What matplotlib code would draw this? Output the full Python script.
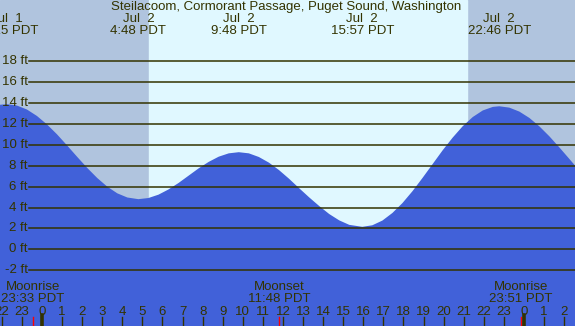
import matplotlib
matplotlib.use("Agg")
import matplotlib.pyplot as plt

# tide curve (hours from Jul 2 00:00 PDT, feet)
hours = [-2.1, -1.75, -1.25, -0.75, -0.25, 0.25, 0.75, 1.25, 1.75, 2.25,
         2.75, 3.25, 3.75, 4.25, 4.8, 5.3, 5.8, 6.3, 6.8, 7.3,
         7.8, 8.3, 8.8, 9.3, 9.8, 10.3, 10.8, 11.3, 11.8, 12.3,
         12.8, 13.3, 13.8, 14.3, 14.8, 15.3, 15.95, 16.45, 16.95, 17.45,
         17.95, 18.45, 18.95, 19.45, 19.95, 20.45, 20.95, 21.45, 21.95, 22.45,
         22.77, 23.27, 23.77, 24.27, 24.77, 25.27, 25.77, 26.27, 26.6]
heights = [13.84, 13.9, 13.77, 13.39, 12.77, 11.96, 11.01, 9.95, 8.86, 7.8,
           6.83, 6.0, 5.36, 4.96, 4.8, 4.91, 5.23, 5.73, 6.35, 7.05,
           7.75, 8.37, 8.87, 9.19, 9.3, 9.19, 8.84, 8.3, 7.59, 6.76,
           5.86, 4.98, 4.15, 3.38, 2.77, 2.34, 2.15, 2.3, 2.75, 3.48,
           4.43, 5.57, 6.84, 8.16, 9.48, 10.7, 11.79, 12.67, 13.3, 13.64,
           13.7, 13.57, 13.19, 12.58, 11.77, 10.81, 9.74, 8.63, 7.89]

# high / low tide labels
event_hours = [-1.75, 4.8, 9.8, 15.95, 22.77]
event_dates = ["Jul  1", "Jul  2", "Jul  2", "Jul  2", "Jul  2"]
event_times = ["22:15 PDT", "4:48 PDT", "9:48 PDT", "15:57 PDT", "22:46 PDT"]

# moon events
moon_hours = [-0.45, 11.8, 23.85]
moon_names = ["Moonrise", "Moonset", "Moonrise"]
moon_times = ["23:33 PDT", "11:48 PDT", "23:51 PDT"]

sunrise, sunset = 5.33, 21.17
grid_ft = list(range(-2, 20, 2))
tick_hours = list(range(-2, 27))

title = "Steilacoom, Cormorant Passage, Puget Sound, Washington"

x0, x1 = -2.09, 26.54
y0, y1 = -7.35, 23.88

night = "#b0c4de"
day = "#e0f8ff"
water = "#4161d9"
ink = "#333300"

plt.rcParams["font.family"] = ["Liberation Sans", "DejaVu Sans"]

fig = plt.figure(figsize=(5.75, 3.26), dpi=100)
ax = fig.add_axes([0, 0, 1, 1])
ax.set_xlim(x0, x1)
ax.set_ylim(y0, y1)
ax.axis("off")

ax.axvspan(x0, x1, color=night, zorder=0)
ax.axvspan(sunrise, sunset, color=day, zorder=0.5)
ax.fill_between(hours, heights, y0 - 1, color=water, lw=0, zorder=1)

fs = 9.5

# grid lines with labels
gx = x0 + 29 / 575 * (x1 - x0)
for ft in grid_ft:
    ax.plot([gx, x1], [ft, ft], color=ink, lw=1.1, zorder=2)
    ax.text(gx - 0.05, ft, f"{ft} ft", ha="right", va="center",
            fontsize=fs, color=ink, zorder=3)

xt = ax.get_xaxis_transform()

ax.text(0.5 * (x0 + x1) - 0.05, 1 - 7 / 326, title, transform=xt,
        ha="center", va="center", fontsize=fs, color=ink)
for h, d, t in zip(event_hours, event_dates, event_times):
    ax.text(h, 1 - 19 / 326, d, transform=xt, ha="center", va="center",
            fontsize=fs, color=ink)
    ax.text(h, 1 - 31 / 326, t, transform=xt, ha="center", va="center",
            fontsize=fs, color=ink)

for h, n, t in zip(moon_hours, moon_names, moon_times):
    ax.text(h, 1 - 287 / 326, n, transform=xt, ha="center", va="center",
            fontsize=fs, color=ink)
    ax.text(h, 1 - 299 / 326, t, transform=xt, ha="center", va="center",
            fontsize=fs, color=ink)
    ax.axvline(h, ymin=0, ymax=9 / 326, color="red", lw=1.0, zorder=4)

for h in tick_hours:
    ax.text(h, 1 - 312 / 326, str(h % 24), transform=xt, ha="center",
            va="center", fontsize=fs, color=ink)
    if h % 24 == 0:
        ax.axvline(h, ymin=0, ymax=11 / 326, color=ink, lw=2.6, zorder=4)
    else:
        ax.axvline(h, ymin=0, ymax=9 / 326, color=ink, lw=1.0, zorder=4)

fig.savefig("out.png", dpi=100)
